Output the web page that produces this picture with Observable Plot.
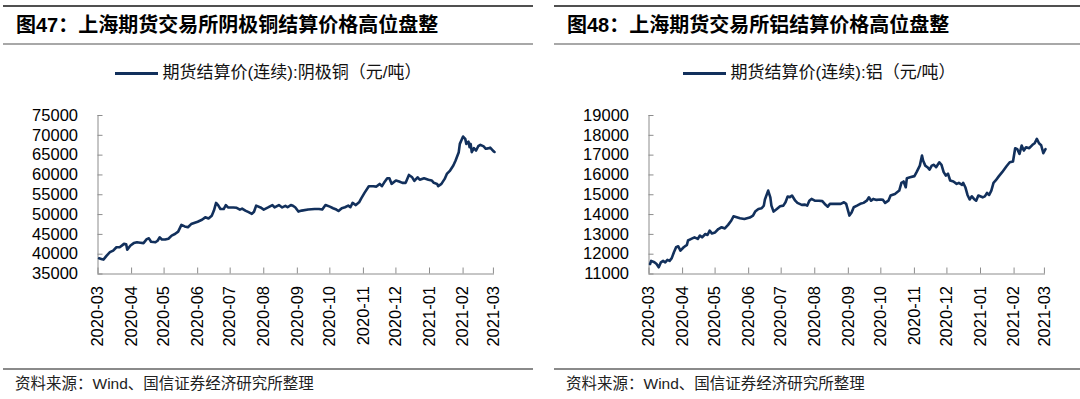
<!DOCTYPE html>
<html>
<head>
<meta charset="utf-8">
<script src="https://cdn.jsdelivr.net/npm/d3@7"></script>
<script src="https://cdn.jsdelivr.net/npm/@observablehq/plot@0.6"></script>
<style>
  html, body { margin: 0; padding: 0; background: #fff; }
  body { width: 1080px; height: 399px; position: relative; overflow: hidden;
         font-family: "Liberation Sans", Arial, "Noto Sans CJK SC", sans-serif; color: #000; }
  .panel { position: absolute; top: 0; width: 540px; height: 399px; }
  .rule { position: absolute; left: 3px; width: 530px; }
  .title { position: absolute; left: 16px; top: 13px; font-size: 20px; font-weight: bold; line-height: 24px; white-space: nowrap; }
  .legend { position: absolute; left: 3px; width: 530px; top: 63px; display: flex; justify-content: center; align-items: center; font-size: 17px; line-height: 20px; white-space: nowrap; color: #111; }
  .legend .swatch { display: inline-block; width: 43px; height: 3px; margin-right: 5px; }
  .source { position: absolute; left: 15px; top: 375px; font-size: 15.5px; line-height: 18px; color: #222; white-space: nowrap; }
  .chart { position: absolute; left: 0; top: 0; }
</style>
</head>
<body>
<div id="root"></div>
<script>
// ---------- data ----------
const monthTicks = ["2020-03","2020-04","2020-05","2020-06","2020-07","2020-08","2020-09","2020-10","2020-11","2020-12","2021-01","2021-02","2021-03"];

const cuTicks = [35000, 40000, 45000, 50000, 55000, 60000, 65000, 70000, 75000];
const alTicks = [11000, 12000, 13000, 14000, 15000, 16000, 17000, 18000, 19000];

const cuDates = ["2020-03-02","2020-03-04","2020-03-06","2020-03-09","2020-03-12","2020-03-15","2020-03-18","2020-03-21","2020-03-23","2020-03-25","2020-03-27","2020-03-28","2020-03-31","2020-04-03","2020-04-06","2020-04-09","2020-04-12","2020-04-15","2020-04-17","2020-04-19","2020-04-23","2020-04-25","2020-04-27","2020-04-29","2020-05-02","2020-05-05","2020-05-08","2020-05-11","2020-05-14","2020-05-17","2020-05-20","2020-05-23","2020-05-26","2020-06-01","2020-06-05","2020-06-08","2020-06-11","2020-06-14","2020-06-16","2020-06-18","2020-06-20","2020-06-22","2020-06-25","2020-06-27","2020-06-29","2020-07-04","2020-07-07","2020-07-10","2020-07-12","2020-07-15","2020-07-18","2020-07-21","2020-07-23","2020-07-25","2020-07-29","2020-08-01","2020-08-05","2020-08-09","2020-08-11","2020-08-15","2020-08-18","2020-08-21","2020-08-23","2020-08-26","2020-08-28","2020-08-30","2020-09-02","2020-09-05","2020-09-11","2020-09-17","2020-09-21","2020-09-24","2020-09-27","2020-10-01","2020-10-04","2020-10-07","2020-10-09","2020-10-12","2020-10-15","2020-10-18","2020-10-20","2020-10-22","2020-10-25","2020-10-28","2020-10-30","2020-11-02","2020-11-06","2020-11-10","2020-11-13","2020-11-16","2020-11-18","2020-11-20","2020-11-23","2020-11-25","2020-11-27","2020-12-01","2020-12-04","2020-12-07","2020-12-10","2020-12-13","2020-12-16","2020-12-18","2020-12-21","2020-12-23","2020-12-27","2020-12-31","2021-01-03","2021-01-05","2021-01-08","2021-01-09","2021-01-12","2021-01-15","2021-01-17","2021-01-20","2021-01-23","2021-01-25","2021-01-28","2021-01-29","2021-02-01","2021-02-03","2021-02-04","2021-02-06","2021-02-07","2021-02-08","2021-02-09","2021-02-11","2021-02-13","2021-02-15","2021-02-17","2021-02-20","2021-02-22","2021-02-24","2021-02-26","2021-03-01","2021-03-02"];
const cuValues = [38970,38800,38640,39650,40500,40900,41750,41750,42160,42600,42500,41150,42200,42800,43000,42900,42800,43800,44000,43150,43000,43400,44260,43700,43700,43900,44700,45100,45700,47400,47000,46800,47600,48200,48700,49300,49000,49700,51000,52940,52300,51400,51400,52400,51800,51800,51700,51260,51500,51000,50600,50160,50700,52260,51800,51260,51800,52400,51800,52400,51800,52200,51850,52400,52200,51850,50750,51000,51260,51400,51400,51260,52400,52000,51600,51260,50900,51600,51850,52260,51850,52940,52400,53100,54100,55470,57150,57150,57060,57740,57150,58000,59170,59170,57740,58600,58350,58000,58000,60000,59400,58500,59400,58800,59170,58800,58600,58000,57740,57150,57740,59000,60260,61100,62370,63600,65740,67840,69700,69100,67840,68400,67000,67840,65740,66750,66160,67250,67600,67200,66600,66700,66900,66000,65800];

const alDates = ["2020-03-02","2020-03-03","2020-03-06","2020-03-08","2020-03-10","2020-03-12","2020-03-14","2020-03-16","2020-03-18","2020-03-20","2020-03-22","2020-03-24","2020-03-26","2020-03-28","2020-03-30","2020-04-02","2020-04-05","2020-04-06","2020-04-09","2020-04-12","2020-04-15","2020-04-17","2020-04-19","2020-04-22","2020-04-24","2020-04-26","2020-04-28","2020-05-01","2020-05-04","2020-05-07","2020-05-10","2020-05-13","2020-05-16","2020-05-18","2020-05-21","2020-05-24","2020-05-28","2020-06-02","2020-06-05","2020-06-07","2020-06-10","2020-06-13","2020-06-15","2020-06-16","2020-06-19","2020-06-21","2020-06-22","2020-06-24","2020-06-27","2020-06-30","2020-07-03","2020-07-05","2020-07-07","2020-07-09","2020-07-11","2020-07-14","2020-07-16","2020-07-20","2020-07-23","2020-07-25","2020-07-27","2020-07-29","2020-08-01","2020-08-05","2020-08-08","2020-08-11","2020-08-13","2020-08-15","2020-08-18","2020-08-22","2020-08-25","2020-08-28","2020-08-30","2020-09-01","2020-09-02","2020-09-04","2020-09-06","2020-09-09","2020-09-12","2020-09-15","2020-09-18","2020-09-20","2020-09-22","2020-09-24","2020-09-27","2020-10-01","2020-10-03","2020-10-05","2020-10-08","2020-10-10","2020-10-14","2020-10-18","2020-10-20","2020-10-22","2020-10-24","2020-10-25","2020-10-28","2020-11-01","2020-11-03","2020-11-06","2020-11-08","2020-11-09","2020-11-11","2020-11-13","2020-11-15","2020-11-17","2020-11-19","2020-11-21","2020-11-24","2020-11-26","2020-11-28","2020-11-30","2020-12-02","2020-12-04","2020-12-07","2020-12-10","2020-12-12","2020-12-15","2020-12-16","2020-12-18","2020-12-20","2020-12-22","2020-12-24","2020-12-26","2020-12-28","2020-12-30","2021-01-03","2021-01-05","2021-01-07","2021-01-09","2021-01-11","2021-01-13","2021-01-15","2021-01-18","2021-01-21","2021-01-25","2021-01-28","2021-01-31","2021-02-02","2021-02-04","2021-02-06","2021-02-08","2021-02-10","2021-02-12","2021-02-15","2021-02-18","2021-02-20","2021-02-22","2021-02-24","2021-02-26","2021-02-28","2021-03-01","2021-03-02"];
const alValues = [11506,11660,11590,11506,11340,11590,11660,11590,11710,11660,11800,12100,12350,12400,12180,12350,12470,12690,12770,12850,12770,12940,12850,13020,12970,13190,13050,13100,13270,13360,13300,13480,13700,13910,13860,13810,13780,13850,13950,14150,14280,14320,14450,14760,15210,14870,14450,14150,14280,14420,14450,14620,14910,14880,14960,14700,14590,14490,14500,14450,14700,14790,14700,14700,14680,14490,14400,14540,14540,14540,14540,14620,14540,14150,13950,14100,14370,14450,14540,14590,14700,14870,14700,14790,14740,14760,14740,14590,14700,14960,15040,15210,15600,15670,15380,15830,15880,15940,16140,16470,16980,16730,16470,16390,16270,16470,16510,16390,16640,16510,16140,15970,16060,15720,15670,15550,15600,15500,15600,15380,14990,14760,14920,14790,14700,14960,14870,14920,15090,14990,15210,15600,15720,15940,16140,16440,16640,16680,17350,17300,17060,17480,17230,17400,17350,17520,17600,17820,17600,17500,17100,17200,17300];

const panels = [
  { left: 0, title: "图47：上海期货交易所阴极铜结算价格高位盘整", legend: "期货结算价(连续):阴极铜（元/吨）", dates: cuDates, values: cuValues, ticks: cuTicks },
  { left: 551, title: "图48：上海期货交易所铝结算价格高位盘整", legend: "期货结算价(连续):铝（元/吨）", dates: alDates, values: alValues, ticks: alTicks }
];
const sourceText = "资料来源：Wind、国信证券经济研究所整理";
const lineColor = "#12305c";
const axisColor = "#8c8c8c";

// ---------- drawing ----------
const parse = d3.utcParse("%Y-%m-%d");
const parseM = d3.utcParse("%Y-%m");
const root = document.getElementById("root");

for (const p of panels) {
  const div = document.createElement("div");
  div.className = "panel";
  div.style.left = p.left + "px";
  root.appendChild(div);

  const W = 540, H = 362;
  const mT = 115, mB = H - 273.5, mL = 97.5, mR = W - 494;
  const frameW = W - mL - mR, frameH = H - mT - mB;
  const data = p.dates.map((d, i) => ({date: parse(d), value: p.values[i]}));
  const xTicks = monthTicks.map(parseM);
  const yMin = p.ticks[0], yMax = p.ticks[p.ticks.length - 1];

  const chart = Plot.plot({
    width: W, height: H,
    marginTop: mT, marginBottom: mB, marginLeft: mL, marginRight: mR,
    style: {background: "transparent", fontFamily: "'Liberation Sans', Arial, sans-serif", fontSize: "16.5px", color: "#000", overflow: "visible"},
    x: {type: "utc", domain: [parseM("2020-03"), parse("2021-03-02")]},
    y: {domain: [yMin, yMax]},
    marks: [
      Plot.axisY({ticks: p.ticks, tickSize: 0, tickPadding: 20, tickFormat: d3.format("d"), label: null, fontSize: 16.5}),
      Plot.axisX({ticks: xTicks, tickSize: 0, tickPadding: 12, tickRotate: -90, tickFormat: d3.utcFormat("%Y-%m"), label: null, fontSize: 16.5}),
      Plot.ruleY(p.ticks, {stroke: axisColor, insetRight: frameW - 5}),
      Plot.ruleX(xTicks, {stroke: axisColor, insetTop: frameH - 6}),
      Plot.ruleX([xTicks[0]], {stroke: axisColor}),
      Plot.ruleY([yMin], {stroke: axisColor}),
      Plot.lineY(data, {x: "date", y: "value", stroke: lineColor, strokeWidth: 2.6, curve: "linear"})
    ]
  });
  chart.classList.add("chart");
  div.appendChild(chart);

  const mk = (cls, css, text) => {
    const e = document.createElement("div");
    e.className = cls;
    Object.assign(e.style, css);
    if (text) e.textContent = text;
    div.appendChild(e);
    return e;
  };
  mk("rule", {top: "5px", height: "1.5px", background: "#505050"});
  mk("title", {}, p.title);
  mk("rule", {top: "43px", height: "2px", background: "#a8a8a8"});
  const lg = mk("legend", {});
  const sw = document.createElement("span");
  sw.className = "swatch"; sw.style.background = lineColor;
  const lt = document.createElement("span");
  lt.textContent = p.legend;
  lg.appendChild(sw); lg.appendChild(lt);
  mk("rule", {top: "368px", height: "1.5px", background: "#8a8a8a"});
  mk("source", {}, sourceText);
}
</script>
</body>
</html>
